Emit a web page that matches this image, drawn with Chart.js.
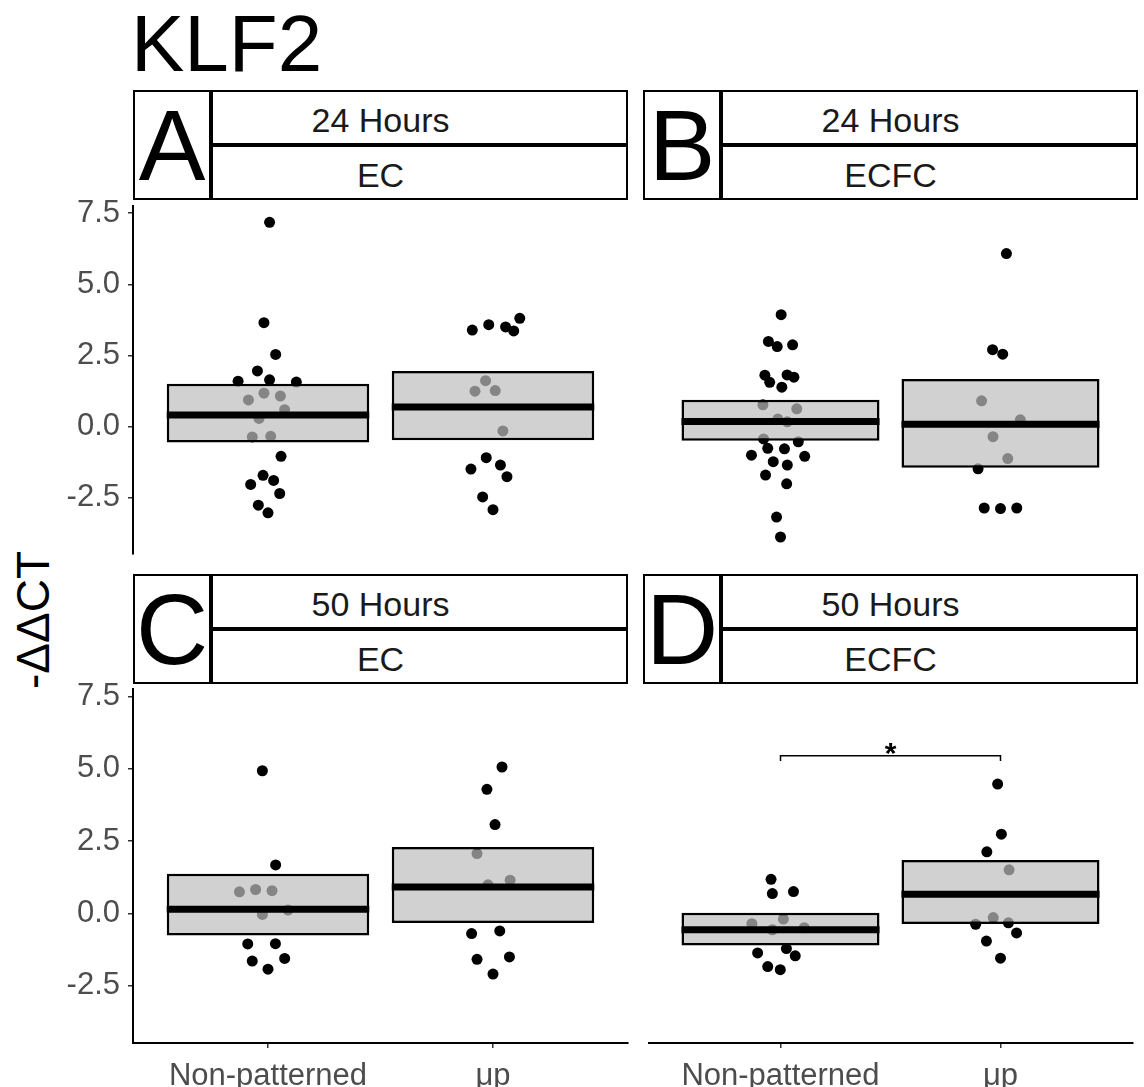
<!DOCTYPE html>
<html>
<head>
<meta charset="utf-8">
<script src="https://cdn.jsdelivr.net/npm/chart.js@4.4.1/dist/chart.umd.min.js"></script>
<style>
  body { margin: 0; background: #fff; width: 1144px; height: 1087px; position: relative; overflow: hidden;
         font-family: 'Liberation Sans', Arial, sans-serif; }
  canvas { position: absolute; }
  .abs { position: absolute; }
  .title { left: 131px; top: 4px; font-size: 80px; line-height: 80px; color: #000; }
  .tag { box-sizing: border-box; width: 78px; height: 110px; border: 2px solid #000;
         display: flex; align-items: center; justify-content: center; font-size: 100px; line-height: 100px; color: #000; }
  .strip { box-sizing: border-box; width: 417px; height: 55px; border: 2px solid #000; }
  .stext { width: 495px; text-align: center; font-size: 34px; line-height: 34px; color: #1a1a1a; white-space: nowrap; }
  .ytitle { left: 33px; top: 620px; font-size: 46px; line-height: 46px; white-space: nowrap;
            transform: translate(-50%, -50%) rotate(-90deg); }
</style>
</head>
<body>

<div class="abs title">KLF2</div>
<div class="abs ytitle">-ΔΔCT</div>

<!-- strips top row -->
<div class="abs tag" style="left:133px;top:90px">A</div>
<div class="abs strip" style="left:211px;top:90px"></div>
<div class="abs strip" style="left:211px;top:145px"></div>
<div class="abs stext" style="left:133px;top:103px">24 Hours</div>
<div class="abs stext" style="left:133px;top:158px">EC</div>

<div class="abs tag" style="left:643px;top:90px">B</div>
<div class="abs strip" style="left:721px;top:90px"></div>
<div class="abs strip" style="left:721px;top:145px"></div>
<div class="abs stext" style="left:643px;top:103px">24 Hours</div>
<div class="abs stext" style="left:643px;top:158px">ECFC</div>

<!-- strips bottom row -->
<div class="abs tag" style="left:133px;top:574px">C</div>
<div class="abs strip" style="left:211px;top:574px"></div>
<div class="abs strip" style="left:211px;top:629px"></div>
<div class="abs stext" style="left:133px;top:587px">50 Hours</div>
<div class="abs stext" style="left:133px;top:642px">EC</div>

<div class="abs tag" style="left:643px;top:574px">D</div>
<div class="abs strip" style="left:721px;top:574px"></div>
<div class="abs strip" style="left:721px;top:629px"></div>
<div class="abs stext" style="left:643px;top:587px">50 Hours</div>
<div class="abs stext" style="left:643px;top:642px">ECFC</div>

<canvas id="cA" width="640" height="359" style="left:0;top:200px"></canvas>
<canvas id="cB" width="495" height="359" style="left:643px;top:200px"></canvas>
<canvas id="cC" width="640" height="404" style="left:0;top:683px"></canvas>
<canvas id="cD" width="495" height="404" style="left:643px;top:683px"></canvas>

<script>
// categories and axis
const categories = ['Non-patterned', 'μp'];
const yTicks = [-2.5, 0, 2.5, 5, 7.5];
const yMin = -4.47, yMax = 7.77;

// A: 24 Hours / EC
const aNP = [7.18, 3.65, 2.53, 1.95, 1.59, 1.64, 1.56, 1.17, 1.07, 0.93, 0.59, 0.28, -0.37, -0.35, -1.05, -1.72, -1.90, -2.04, -2.36, -2.77, -3.04];
const aNPjit = [0.007, -0.018, 0.034, -0.047, -0.133, 0.007, 0.126, -0.018, 0.055, -0.087, 0.074, -0.04, -0.07, 0.012, 0.058, -0.022, 0.025, -0.077, 0.052, -0.043, 0];
const aUP = [3.80, 3.58, 3.39, 3.50, 3.36, 1.61, 1.24, 1.26, -0.16, -1.10, -1.36, -1.50, -1.77, -2.48, -2.93];
const aUPjit = [0.119, -0.019, -0.092, 0.056, 0.092, -0.033, -0.080, 0.010, 0.044, -0.030, 0.033, -0.098, 0.062, -0.046, 0];
const aLow = [-0.57, -0.49], aMid = [0.40, 0.68], aHigh = [1.50, 1.95];

// B: 24 Hours / ECFC
const bNP = [3.93, 2.99, 2.81, 2.87, 1.80, 1.81, 1.73, 1.55, 1.38, 0.76, 0.62, 0.26, 0.16, -0.44, -0.54, -0.77, -0.79, -1.01, -1.05, -1.24, -1.36, -1.71, -2.02, -3.19, -3.89];
const bNPjit = [0.003, -0.055, -0.015, 0.055, -0.071, 0.030, 0.061, -0.049, 0.006, -0.080, 0.074, -0.012, 0.031, -0.077, 0.081, -0.058, 0.018, -0.132, 0.110, -0.033, 0.031, -0.068, 0.028, -0.018, 0];
const bUP = [6.08, 2.70, 2.54, 0.90, 0.23, -0.36, -1.13, -1.49, -2.87, -2.89, -2.87];
const bUPjit = [0.027, -0.036, 0.010, -0.086, 0.090, -0.034, 0.033, -0.102, -0.074, 0, 0.074];
const bLow = [-0.50, -1.45], bMid = [0.17, 0.08], bHigh = [0.94, 1.67];

// C: 50 Hours / EC
const cNP = [4.93, 1.68, 0.83, 0.79, 0.75, 0.12, -0.03, -1.05, -1.04, -1.55, -1.64, -1.92];
const cNPjit = [-0.025, 0.034, -0.055, 0.018, -0.127, 0.089, -0.025, -0.090, 0.033, 0.074, -0.070, 0];
const cUP = [5.06, 4.29, 3.07, 2.07, 1.15, 0.99, -0.60, -0.69, -1.50, -1.58, -2.09];
const cUPjit = [0.040, -0.027, 0.009, -0.071, 0.076, -0.022, 0.030, -0.095, 0.073, -0.071, 0];
const cLow = [-0.76, -0.33], cMid = [0.15, 0.92], cHigh = [1.37, 2.30];

// D: 50 Hours / ECFC
const dNP = [1.18, 0.69, 0.76, -0.19, -0.35, -0.49, -0.56, -1.21, -1.36, -1.46, -1.83, -1.94];
const dNPjit = [-0.043, -0.037, 0.059, 0.013, -0.13, 0.108, -0.037, 0.027, -0.104, 0.067, -0.058, -0.001];
const dUP = [4.47, 2.74, 2.13, 1.51, -0.14, -0.32, -0.37, -0.67, -0.95, -1.54];
const dUPjit = [-0.013, 0.004, -0.062, 0.039, -0.033, 0.036, -0.113, 0.073, -0.064, 0];
const dLow = [-1.10, -0.36], dMid = [-0.56, 0.67], dHigh = [0.03, 1.85];

// significance bracket in D
const sigY = 5.45, sigTip = 0.18, sigLabel = '*';

const BOX_W = 0.9;
const tickFont = { family: 'Liberation Sans', size: 31 };

const starPlugin = {
    id: 'sigStar',
    afterDatasetsDraw(chart, args, opts) {
        if (!opts.show) return;
        const { x, y } = chart.scales;
        const ctx = chart.ctx;
        ctx.save();
        ctx.font = 'bold 30px "Liberation Sans"';
        ctx.fillStyle = '#000';
        ctx.textAlign = 'center';
        ctx.textBaseline = 'alphabetic';
        ctx.fillText(sigLabel, x.getPixelForValue(1.5), y.getPixelForValue(sigY) + 7);
        ctx.restore();
    }
};

function makePanel(id, np, npJit, up, upJit, low, mid, high, showY, showX, sig) {
    const pts = np.map((v, i) => ({ x: 1 + npJit[i], y: v }))
        .concat(up.map((v, i) => ({ x: 2 + upJit[i], y: v })));

    const datasets = [
        {
            type: 'scatter', data: pts, order: 3, clip: false,
            backgroundColor: '#000', borderWidth: 0, pointRadius: 5.5, pointHoverRadius: 5.5
        },
        {
            type: 'bar', order: 2,
            data: low.map((lo, i) => ({ x: i + 1, y: [lo, high[i]] })),
            backgroundColor: 'rgba(190,190,190,0.7)', borderColor: '#000', borderWidth: 2.5,
            borderSkipped: false, barPercentage: BOX_W, categoryPercentage: 1
        }
    ];
    mid.forEach((m, i) => {
        datasets.push({
            type: 'line', order: 1,
            data: [{ x: i + 1 - BOX_W / 2, y: m }, { x: i + 1 + BOX_W / 2, y: m }],
            borderColor: '#000', borderWidth: 7, borderCapStyle: 'butt', pointRadius: 0
        });
    });
    if (sig) {
        datasets.push({
            type: 'line', order: 0, clip: false,
            data: [{ x: 1, y: sigY - sigTip }, { x: 1, y: sigY }, { x: 2, y: sigY }, { x: 2, y: sigY - sigTip }],
            borderColor: '#000', borderWidth: 1.5, pointRadius: 0, tension: 0
        });
    }

    new Chart(document.getElementById(id), {
        type: 'scatter',
        data: { datasets: datasets },
        plugins: [starPlugin],
        options: {
            responsive: false,
            animation: false,
            devicePixelRatio: 1,
            layout: { padding: { left: 0, right: showY ? 12 : 0, top: 0, bottom: 0 } },
            plugins: { legend: { display: false }, tooltip: { enabled: false }, sigStar: { show: sig } },
            scales: {
                x: {
                    type: 'linear', min: 0.4, max: 2.6, offset: false, display: showX,
                    afterBuildTicks: s => { s.ticks = categories.map((c, i) => ({ value: i + 1 })); },
                    afterFit: s => { s.height = showX ? 44 : 0; s.paddingLeft = 0; s.paddingRight = 0; },
                    ticks: {
                        callback: v => categories[Math.round(v) - 1],
                        font: tickFont, color: '#4d4d4d', padding: 10, maxRotation: 0, autoSkip: false
                    },
                    grid: { display: true, drawOnChartArea: false, drawTicks: true, tickLength: 5, color: '#333', lineWidth: 1.5, offset: false },
                    border: { display: true, color: '#000', width: 2 }
                },
                y: {
                    type: 'linear', min: yMin, max: yMax, display: showY,
                    afterBuildTicks: s => { s.ticks = yTicks.map(v => ({ value: v })); },
                    afterFit: s => { s.width = showY ? 133 : 0; s.paddingTop = 0; s.paddingBottom = 0; },
                    ticks: { callback: v => v.toFixed(1), font: tickFont, color: '#4d4d4d', padding: 8 },
                    grid: { display: true, drawOnChartArea: false, drawTicks: true, tickLength: 5, color: '#333', lineWidth: 1.5 },
                    border: { display: true, color: '#000', width: 2 }
                }
            }
        }
    });
}

makePanel('cA', aNP, aNPjit, aUP, aUPjit, aLow, aMid, aHigh, true, false, false);
makePanel('cB', bNP, bNPjit, bUP, bUPjit, bLow, bMid, bHigh, false, false, false);
makePanel('cC', cNP, cNPjit, cUP, cUPjit, cLow, cMid, cHigh, true, true, false);
makePanel('cD', dNP, dNPjit, dUP, dUPjit, dLow, dMid, dHigh, false, true, true);
</script>
</body>
</html>
